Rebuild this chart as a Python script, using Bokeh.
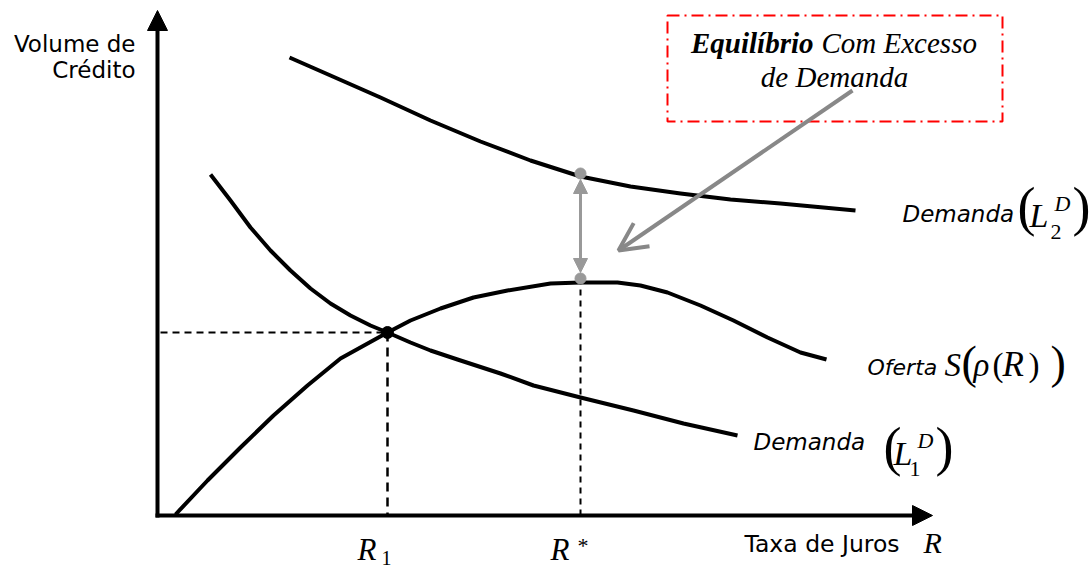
from bokeh.plotting import figure
from bokeh.models import Range1d, Arrow, NormalHead, OpenHead
from bokeh.core.properties import value
from bokeh.embed import file_html
from bokeh.resources import INLINE

# ---- data (screen-like units: x right, y down) ----
demand2_x = [289, 330, 380, 430, 480, 530, 580, 630, 680, 730, 780, 855]
demand2_y = [57, 75, 97, 120, 141, 160, 176, 186, 193, 199, 203, 210]

demand1_x = [210, 230, 250, 270, 290, 310, 330, 350, 370, 387, 410, 430, 457, 500, 533, 580, 633, 683, 737]
demand1_y = [174, 200, 227, 250, 270, 288, 303, 315, 325, 332, 342, 350, 359, 373, 385, 397, 410, 423, 435]

supply_x = [175, 207, 240, 273, 307, 340, 387, 410, 440, 473, 507, 550, 580, 617, 640, 667, 700, 733, 767, 800, 826]
supply_y = [514, 480, 447, 415, 385, 358, 332, 320, 308, 297, 290, 283, 282, 282, 285, 292, 305, 320, 337, 352, 359]

origin_x, origin_y = 157, 515
axis_top = 10
axis_right = 932
r1_x, r1_y = 387, 332          # equilibrium R1
rstar_x = 580
rstar_supply_y = 278
rstar_demand_y = 173

SANS = "DejaVu Sans"
SERIF = "Liberation Serif"

W, H = 1092, 568
p = figure(width=W, height=H, output_backend="svg", toolbar_location=None,
           x_range=Range1d(0, W), y_range=Range1d(H, 0), min_border=0)
p.axis.visible = False
p.grid.visible = False
p.outline_line_color = None
p.background_fill_color = "white"

# dashed guides
p.line([origin_x + 3, r1_x], [r1_y, r1_y], line_color="black", line_width=2, line_dash="7 5")
p.line([r1_x, r1_x], [r1_y, origin_y], line_color="black", line_width=2.5, line_dash="9 6")
p.line([rstar_x, rstar_x], [rstar_supply_y, origin_y], line_color="black", line_width=2, line_dash="6 5")

# curves
for xs, ys in [(demand2_x, demand2_y), (demand1_x, demand1_y), (supply_x, supply_y)]:
    p.line(xs, ys, line_color="black", line_width=4, line_join="round", line_cap="butt")

# axes with arrow heads
p.add_layout(Arrow(end=NormalHead(size=20, fill_color="black", line_color="black"),
                   x_start=origin_x, y_start=origin_y + 2, x_end=origin_x, y_end=axis_top,
                   line_width=4, line_color="black"))
p.add_layout(Arrow(end=NormalHead(size=20, fill_color="black", line_color="black"),
                   x_start=origin_x - 2, y_start=origin_y, x_end=axis_right, y_end=origin_y,
                   line_width=4, line_color="black"))

# gray double arrow (excess demand)
p.add_layout(Arrow(start=NormalHead(size=14, fill_color="#999999", line_color="#999999"),
                   end=NormalHead(size=14, fill_color="#999999", line_color="#999999"),
                   x_start=rstar_x, y_start=rstar_supply_y - 6, x_end=rstar_x, y_end=rstar_demand_y + 6,
                   line_width=3, line_color="#999999"))
p.scatter([rstar_x, rstar_x], [rstar_demand_y, rstar_supply_y], size=11, fill_color="#999999",
          line_color="#999999")
p.scatter([r1_x], [r1_y], size=12, fill_color="black", line_color="black")

# annotation box
p.quad(left=[667], right=[1002], top=[15], bottom=[121], fill_color=None,
       line_color="#ff0000", line_width=2, line_dash="12 5 2 5")
p.add_layout(Arrow(end=OpenHead(size=28, line_width=4, line_color="#888888"),
                   x_start=852, y_start=90, x_end=618, y_end=250,
                   line_width=4, line_color="#888888"))


def txt(x, y, s, size, font=SANS, style="normal", align="left"):
    # y is the wanted baseline; compensate the renderer's baseline offset
    p.text([x], [y - 0.35 * size], text=[s], text_font=value(font), text_font_size=f"{size}px",
           text_font_style=style, text_align=align, text_baseline="alphabetic", text_color="black")


# y axis label
txt(135, 52, "Volume de", 23, align="right")
txt(135, 78, "Crédito", 23, align="right")

# box text
txt(813, 53, "Equilíbrio", 29, SERIF, "bold italic", align="right")
txt(821, 53, "Com Excesso", 29, SERIF, "italic")
txt(834, 87, "de Demanda", 29, SERIF, "italic", align="center")

# Demanda L2
txt(902, 222, "Demanda", 23, style="italic")
txt(1017, 225, "(", 54, SERIF)
txt(1029, 227, "L", 34, SERIF, "italic")
txt(1054, 211, "D", 22, SERIF, "italic")
txt(1050, 239, "2", 22, SERIF)
txt(1072, 225, ")", 54, SERIF)

# Oferta
txt(867, 375, "Oferta", 22, style="italic")
txt(944, 376, "S", 33, SERIF, "italic")
txt(961, 378, "(", 46, SERIF)
txt(973, 376, "ρ", 33, SERIF, "italic")
txt(992, 376, "(", 33, SERIF)
txt(1002, 376, "R", 35, SERIF, "italic")
txt(1028, 376, ")", 33, SERIF)
txt(1050, 378, ")", 46, SERIF)

# Demanda L1
txt(753, 450, "Demanda", 23, style="italic")
txt(883, 465, "(", 54, SERIF)
txt(893, 465, "L", 34, SERIF, "italic")
txt(917, 448, "D", 22, SERIF, "italic")
txt(909, 476, "1", 22, SERIF)
txt(935, 465, ")", 54, SERIF)

# x axis labels
txt(357, 560, "R", 31, SERIF, "italic")
txt(381, 564, "1", 20, SERIF)
txt(550, 560, "R", 31, SERIF, "italic")
txt(577, 553, "*", 22, SERIF)
txt(744, 552, "Taxa de Juros", 23.5)
txt(923, 552, "R", 30, SERIF, "italic")

open("out.html", "w").write(file_html(p, INLINE))
